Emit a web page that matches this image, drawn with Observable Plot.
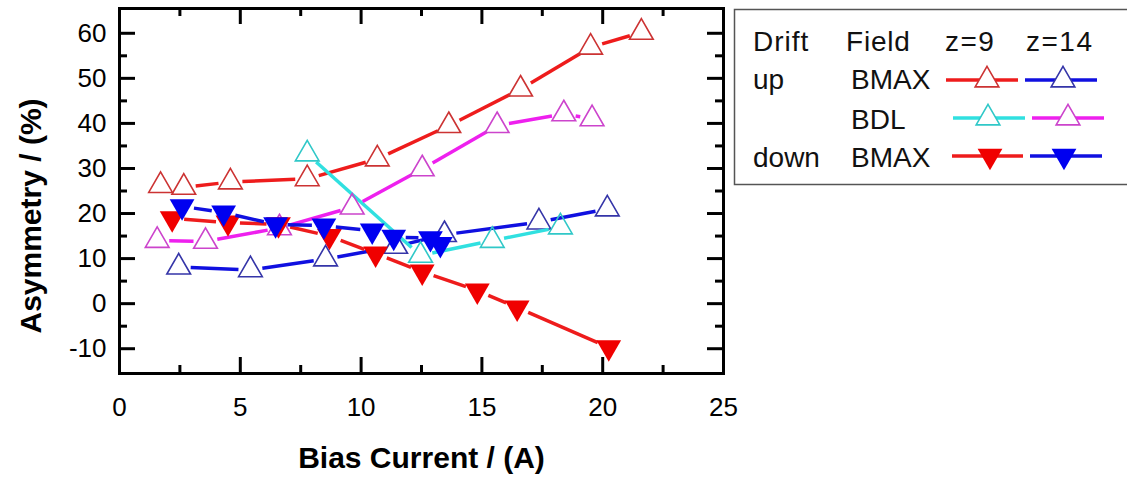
<!DOCTYPE html>
<html>
<head>
<meta charset="utf-8">
<script src="https://cdn.jsdelivr.net/npm/d3@7"></script>
<script src="https://cdn.jsdelivr.net/npm/@observablehq/plot@0.6"></script>
<style>
  body { margin: 0; background: #fff; }
  #fig { position: relative; width: 1127px; height: 478px; background: #fff;
         font-family: "Liberation Sans", Arial, Helvetica, sans-serif; color: #000; }
  #fig svg { position: absolute; left: 0; top: 0; }
  #legend { pointer-events: none; }
</style>
</head>
<body>
<div id="fig"></div>
<script>
// ---- measured asymmetry (%) versus bias current (A) ----
// drift up, BMAX field, z = 9
const upBmaxZ9X = [1.70, 2.66, 4.59, 7.77, 10.67, 13.63, 16.60, 19.50, 21.60];
const upBmaxZ9Y = [26.2, 25.8, 27.0, 27.7, 32.1, 39.5, 47.6, 56.9, 60.2];
// drift up, BMAX field, z = 14
const upBmaxZ14X = [2.45, 5.42, 8.53, 11.43, 13.45, 17.36, 20.19];
const upBmaxZ14Y = [8.1, 7.5, 9.9, 12.7, 15.3, 18.1, 21.0];
// drift up, BDL field, z = 9
const upBdlZ9X = [7.77, 12.46, 15.43, 18.25];
const upBdlZ9Y = [33.2, 10.7, 14.0, 17.0];
// drift up, BDL field, z = 14
const upBdlZ14X = [1.56, 3.56, 6.62, 9.63, 12.53, 15.63, 18.39, 19.56];
const upBdlZ14Y = [14.0, 13.8, 16.8, 21.4, 29.9, 39.5, 42.1, 41.0];
// drift down, BMAX field, z = 9
const downBmaxZ9X = [2.18, 4.49, 6.58, 8.69, 10.60, 12.53, 14.81, 16.46, 20.25];
const downBmaxZ9Y = [18.9, 18.0, 17.6, 15.0, 11.1, 7.1, 2.9, -0.9, -9.7];
// drift down, BMAX field, z = 14
const downBmaxZ14X = [2.59, 4.31, 6.46, 8.46, 10.46, 11.35, 12.87, 13.28];
const downBmaxZ14Y = [21.6, 20.2, 17.6, 17.3, 16.2, 14.8, 14.5, 13.2];

// axis ticks and labels
const xTickLabels = [0, 5, 10, 15, 20, 25];
const xMajorTicks = [5, 10, 15, 20];
const xMinorTicks = [2.5, 7.5, 12.5, 17.5, 22.5];
const yTickLabels = [-10, 0, 10, 20, 30, 40, 50, 60];
const yMinorTicks = [-5, 5, 15, 25, 35, 45, 55];
const xTitle = "Bias Current / (A)";
const yTitle = "Asymmetry / (%)";

// legend text
const legendHeader = ["Drift", "Field", "z=9", "z=14"];
const legendDrift = ["up", "", "down"];
const legendField = ["BMAX", "BDL", "BMAX"];

// ---- layout ----
const W = 1127, H = 478;
const margin = {top: 8, right: 404, bottom: 105, left: 119};
const plotH = H - margin.top - margin.bottom;
const plotW = W - margin.left - margin.right;
const xDomain = [0, 25];
const yDomain = [-15.5, 65.5];

const sx = Plot.scale({x: {domain: xDomain, range: [margin.left, W - margin.right]}});
const sy = Plot.scale({y: {domain: yDomain, range: [H - margin.bottom, margin.top]}});

const pts = (xs, ys) => xs.map((x, i) => ({x, y: ys[i]}));

// connecting segments that stop short of each marker
function gapped(xs, ys, gap) {
  const out = [];
  for (let i = 0; i + 1 < xs.length; i++) {
    const ax = sx.apply(xs[i]), ay = sy.apply(ys[i]);
    const bx = sx.apply(xs[i + 1]), by = sy.apply(ys[i + 1]);
    const len = Math.hypot(bx - ax, by - ay);
    if (len <= 2 * gap) continue;
    const ux = (bx - ax) / len, uy = (by - ay) / len;
    out.push({
      x1: sx.invert(ax + ux * gap), y1: sy.invert(ay + uy * gap),
      x2: sx.invert(bx - ux * gap), y2: sy.invert(by - uy * gap)
    });
  }
  return out;
}

const series = [
  {xs: upBmaxZ9X,    ys: upBmaxZ9Y,    line: "#ee1c1c", mark: "#cc3333", filled: false},
  {xs: upBmaxZ14X,   ys: upBmaxZ14Y,   line: "#1010e0", mark: "#3535a8", filled: false},
  {xs: upBdlZ9X,     ys: upBdlZ9Y,     line: "#30e0e0", mark: "#30c8c8", filled: false},
  {xs: upBdlZ14X,    ys: upBdlZ14Y,    line: "#ee20ee", mark: "#cc44cc", filled: false},
  {xs: downBmaxZ9X,  ys: downBmaxZ9Y,  line: "#ee1c1c", mark: "#f00000", filled: true},
  {xs: downBmaxZ14X, ys: downBmaxZ14Y, line: "#1010e0", mark: "#0000f0", filled: true}
];

const openR = 8.8, filledR = 9.2;

const marks = [];
for (const s of series) {
  marks.push(Plot.link(gapped(s.xs, s.ys, 12), {
    x1: "x1", y1: "y1", x2: "x2", y2: "y2",
    stroke: s.line, strokeWidth: 3.5, strokeLinecap: "butt"
  }));
  marks.push(s.filled
    ? Plot.dot(pts(s.xs, s.ys), {x: "x", y: "y", symbol: "triangle", r: filledR, rotate: 180, fill: s.mark, stroke: "none"})
    : Plot.dot(pts(s.xs, s.ys), {x: "x", y: "y", symbol: "triangle", r: openR, fill: "none", stroke: s.mark, strokeWidth: 1.6}));
}

const tickStyle = {stroke: "#000", strokeWidth: 3};
const major = 16, minor = 8;

const chart = Plot.plot({
  width: W, height: H,
  marginTop: margin.top, marginRight: margin.right, marginBottom: margin.bottom, marginLeft: margin.left,
  x: {domain: xDomain},
  y: {domain: yDomain},
  style: {fontFamily: '"Liberation Sans", Arial, Helvetica, sans-serif', color: "#000", background: "transparent", overflow: "visible"},
  marks: [
    ...marks,
    // inward ticks on all four sides
    Plot.tickX(xMajorTicks, {x: d => d, insetTop: plotH - major, ...tickStyle}),
    Plot.tickX(xMajorTicks, {x: d => d, insetBottom: plotH - major, ...tickStyle}),
    Plot.tickX(xMinorTicks, {x: d => d, insetTop: plotH - minor, ...tickStyle}),
    Plot.tickX(xMinorTicks, {x: d => d, insetBottom: plotH - minor, ...tickStyle}),
    Plot.tickY(yTickLabels, {y: d => d, insetRight: plotW - major, ...tickStyle}),
    Plot.tickY(yTickLabels, {y: d => d, insetLeft: plotW - major, ...tickStyle}),
    Plot.tickY(yMinorTicks, {y: d => d, insetRight: plotW - minor, ...tickStyle}),
    Plot.tickY(yMinorTicks, {y: d => d, insetLeft: plotW - minor, ...tickStyle}),
    Plot.frame({stroke: "#000", strokeWidth: 3}),
    Plot.axisX(xTickLabels, {tickSize: 0, tickPadding: 24, fontSize: 26, label: null, tickFormat: d => String(d)}),
    Plot.axisY(yTickLabels, {tickSize: 0, tickPadding: 13, fontSize: 26, label: null, tickFormat: d => String(d)}),
    Plot.text([xTitle], {text: d => d, frameAnchor: "bottom", dy: 85, fontSize: 30, fontWeight: "bold", lineAnchor: "middle"}),
    Plot.text([yTitle], {text: d => d, frameAnchor: "left", dx: -88, dy: 25, rotate: -90, textAnchor: "middle", fontSize: 30, fontWeight: "bold", lineAnchor: "middle"})
  ]
});

const fig = document.getElementById("fig");
fig.appendChild(chart);

// ---- legend box on the right ----
const lg = d3.select(fig).append("svg").attr("id", "legend")
  .attr("width", W).attr("height", H)
  .style("font-family", '"Liberation Sans", Arial, Helvetica, sans-serif');

lg.append("rect").attr("x", 734.5).attr("y", 9.5).attr("width", 420).attr("height", 175)
  .attr("fill", "#fff").attr("stroke", "#555").attr("stroke-width", 1.5);

const textAt = (s, x, y) => lg.append("text").attr("x", x).attr("y", y)
  .attr("font-size", 28).attr("fill", "#111").text(s);

const headerX = [753, 846, 945, 1026];
const headerSpacing = [1, 0.8, 1.5, 1.5];
legendHeader.forEach((s, i) => textAt(s, headerX[i], 51).attr("letter-spacing", headerSpacing[i]));
const rowY = [89, 129, 167];
legendDrift.forEach((s, i) => { if (s) textAt(s, 753, rowY[i]); });
legendField.forEach((s, i) => textAt(s, 851, rowY[i]));

// samples: [series index, line start, line end, marker x, line y]
const samples = [
  [0, 946, 1018, 987, 80], [1, 1025, 1097, 1063, 80],
  [2, 953, 1025, 988, 118], [3, 1032, 1104, 1068, 118],
  [4, 952, 1023, 990, 156], [5, 1030, 1102, 1064, 156]
];
const tri = d3.symbol(d3.symbolTriangle);
for (const [k, a, b, m, y] of samples) {
  const s = series[k];
  lg.append("line").attr("x1", a).attr("x2", b).attr("y1", y).attr("y2", y)
    .attr("stroke", s.line).attr("stroke-width", 3.5);
  const r = s.filled ? filledR : openR;
  lg.append("path").attr("d", tri.size(Math.PI * r * r)())
    .attr("transform", `translate(${m},${y})${s.filled ? " rotate(180)" : ""}`)
    .attr("fill", s.filled ? s.mark : "#fff")
    .attr("stroke", s.filled ? "none" : s.mark).attr("stroke-width", 1.6);
}
</script>
</body>
</html>
